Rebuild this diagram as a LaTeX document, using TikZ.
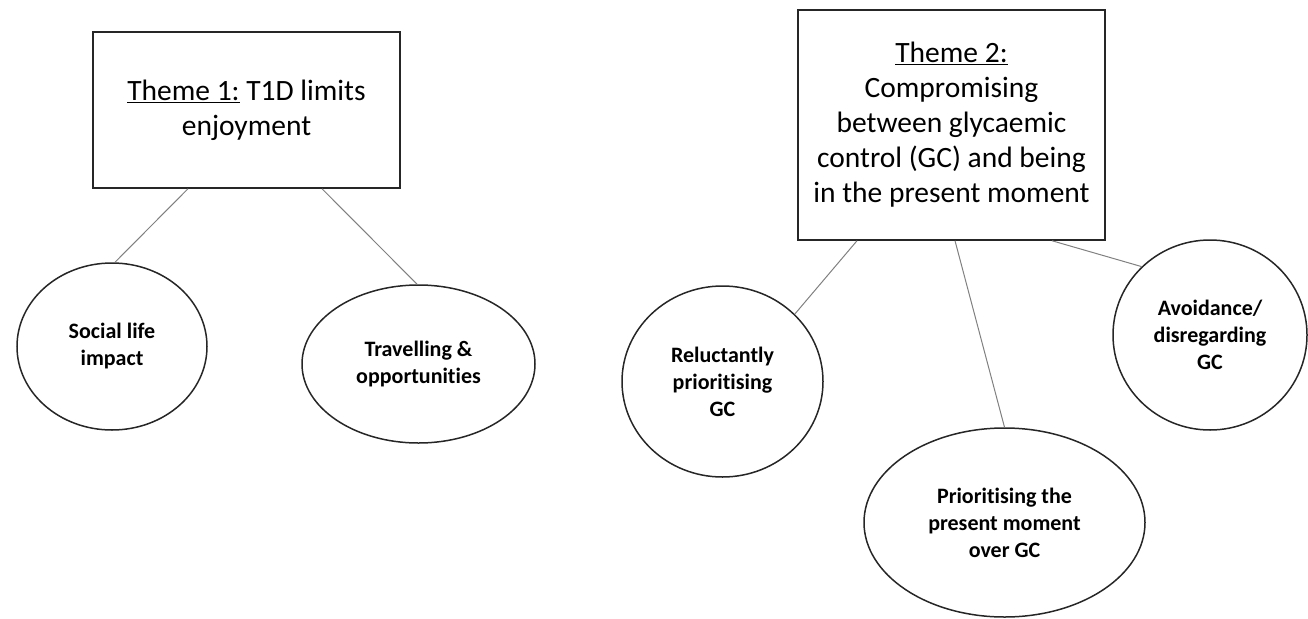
\documentclass[tikz,border=0pt]{standalone}
\usepackage{fontspec}
\setmainfont{Carlito}[Ligatures=NoCommon]
\usetikzlibrary{shapes.geometric}

\begin{document}
\begin{tikzpicture}[x=1pt,y=-1pt,
    theme/.style={draw=black!85,line width=1.5pt,minimum width=307pt,align=center,
      font=\fontsize{29.5}{35}\selectfont},
    sub/.style={ellipse,draw=black!85,line width=1.5pt,inner sep=0pt,align=center,
      font=\fontsize{22}{27}\selectfont\bfseries},
    link/.style={gray,line width=1pt}]
  \useasboundingbox (0,0) rectangle (1308,618);
  % the two themes
  \node[theme,minimum height=156pt] (theme1) at (246.5,110)
    {\underline{Theme 1:} T1D limits\\enjoyment};
  \node[theme,minimum height=230pt] (theme2) at (951.5,125)
    {\underline{Theme 2:}\\Compromising\\between glycaemic\\control (GC) and being\\in the present moment};
  % subthemes
  \node[sub,minimum width=190pt,minimum height=167pt] (social) at (112,346.5) {Social life\\impact};
  \node[sub,minimum width=233pt,minimum height=158pt] (travel) at (418.5,364) {Travelling \&\\opportunities};
  \node[sub,minimum width=201pt,minimum height=191pt] (reluct) at (722.5,381.5) {Reluctantly\\prioritising\\GC};
  \node[sub,minimum width=281pt,minimum height=189pt] (present) at (1004.5,522.5) {Prioritising the\\present moment\\over GC};
  \node[sub,minimum width=194pt,minimum height=190pt] (avoid) at (1210,335) {Avoidance/\\disregarding\\GC};
  % links
  \draw[link]([xshift=-58.5pt]theme1.south)--(social.88);
  \draw[link]([xshift=75.5pt]theme1.south)--(travel.91);
  \draw[link]([xshift=-94.5pt]theme2.south)--(reluct.43);
  \draw[link]([xshift=3.5pt]theme2.south)--(present.90);
  \draw[link]([xshift=100.5pt]theme2.south)--(avoid.135);
\end{tikzpicture}
\end{document}
